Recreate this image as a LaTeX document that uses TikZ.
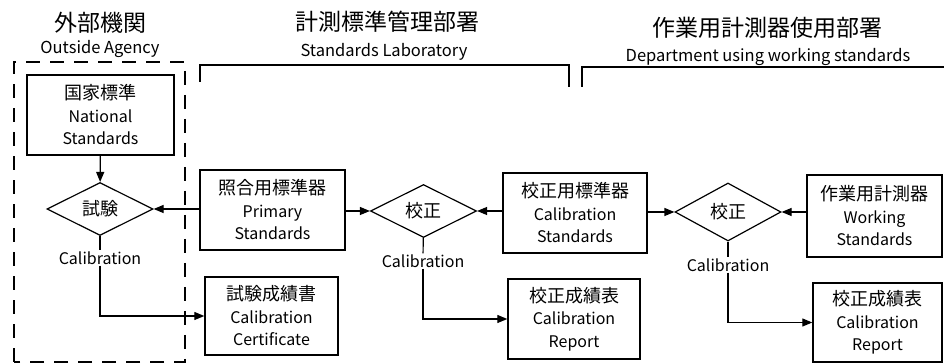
\documentclass[tikz,border=0pt]{standalone}
\usepackage{fontspec}
\setmainfont{Noto Sans CJK JP}
\usetikzlibrary{arrows.meta, shapes.geometric}
\newcommand{\jbig}[1]{{\fontsize{18}{22.5}\selectfont #1}}

\begin{document}
\begin{tikzpicture}[x=1pt, y=1pt,
  box/.style={rectangle, draw=black, line width=1.4pt, align=center, inner sep=0pt,
              font=\fontsize{16}{22.5}\selectfont},
  decide/.style={diamond, draw=black, line width=1.2pt, aspect=2, inner sep=0pt,
                 minimum width=106pt, minimum height=53pt, font=\fontsize{18}{20}\selectfont},
  arrow/.style={-{Triangle[length=10pt, width=8pt]}, line width=1.2pt},
  link/.style={line width=1.2pt},
  title/.style={font=\fontsize{23}{26}\selectfont},
  subtitle/.style={font=\fontsize{16.5}{18}\selectfont},
  note/.style={font=\fontsize{16}{18}\selectfont, inner sep=1pt},
  frame/.style={line width=1.3pt}
]
\useasboundingbox (0,0) rectangle (944,363);

\node[title] (outT) at (100,340) {外部機関};
\node[subtitle] (outS) at (100,314) {Outside Agency};
\node[title] (labT) at (387,341) {計測標準管理部署};
\node[subtitle] (labS) at (384,311) {Standards Laboratory};
\node[title] (depT) at (767,335) {作業用計測器使用部署};
\node[subtitle] (depS) at (768,306) {Department using working standards};

\draw[frame, dash pattern=on 14pt off 10pt] (14,1) rectangle (185,301);
\draw[frame] (200,281) |- (569,298) -- (569,276);
\draw[frame] (582,276) |- (944,296);

\node[box, minimum width=147pt, minimum height=80pt] (natl) at (100.5,248)
      {\jbig{国家標準}\\National\\Standards};
\node[box, minimum width=145pt, minimum height=80pt] (prim) at (272.5,153)
      {\jbig{照合用標準器}\\Primary\\Standards};
\node[box, minimum width=144pt, minimum height=80pt] (calstd) at (575,150)
      {\jbig{校正用標準器}\\Calibration\\Standards};
\node[box, minimum width=135pt, minimum height=82pt] (work) at (874.5,147)
      {\jbig{作業用計測器}\\Working\\Standards};
\node[box, minimum width=133pt, minimum height=78pt] (cert) at (271.5,47)
      {\jbig{試験成績書}\\Calibration\\Certificate};
\node[box, minimum width=132pt, minimum height=80pt] (rep1) at (574,44)
      {\jbig{校正成績表}\\Calibration\\Report};
\node[box, minimum width=129pt, minimum height=79pt] (rep2) at (877.5,40.5)
      {\jbig{校正成績表}\\Calibration\\Report};

\node[decide] (test) at (100,154) {試験};
\node[decide] (cal1) at (423.5,152) {校正};
\node[decide, minimum height=58pt] (cal2) at (728,151) {校正};

\node[note] (tnote) at (100,105) {Calibration};
\node[note] (c1note) at (423,102) {Calibration};
\node[note] (c2note) at (728,98) {Calibration};

\draw[arrow] (natl) -- (test);
\draw[arrow] (prim.west |- test) -- (test.east);
\draw[arrow] (prim.east |- cal1) -- (cal1.west);
\draw[arrow] (calstd.west |- cal1) -- (cal1.east);
\draw[arrow] (calstd.east |- cal2) -- (cal2.west);
\draw[arrow] (work.west |- cal2) -- (cal2.east);

\draw[link] (test) -- (tnote);
\draw[link] (cal1) -- (c1note);
\draw[link] (cal2) -- (c2note);
\draw[arrow] (tnote) |- (cert);
\draw[arrow] (c1note) |- (rep1);
\draw[arrow] (c2note) |- (rep2);
\end{tikzpicture}
\end{document}
